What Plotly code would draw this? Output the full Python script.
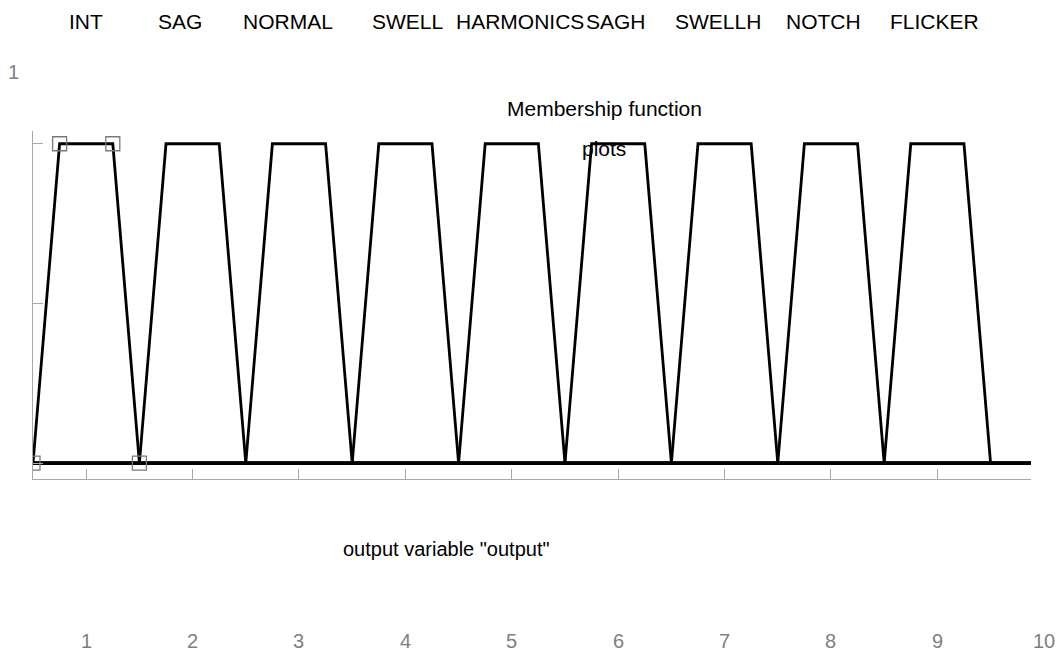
import plotly.graph_objects as go

# ---- data ----
mf_names = ["INT", "SAG", "NORMAL", "SWELL", "HARMONICS", "SAGH", "SWELLH", "NOTCH", "FLICKER"]
mf_params = [
    [0.5, 0.75, 1.25, 1.5],
    [1.5, 1.75, 2.25, 2.5],
    [2.5, 2.75, 3.25, 3.5],
    [3.5, 3.75, 4.25, 4.5],
    [4.5, 4.75, 5.25, 5.5],
    [5.5, 5.75, 6.25, 6.5],
    [6.5, 6.75, 7.25, 7.5],
    [7.5, 7.75, 8.25, 8.5],
    [8.5, 8.75, 9.25, 9.5],
]
mf_levels = [0, 1, 1, 0]
x_range = [0.5, 9.88]
y_range = [-0.05, 1.04]
x_tick_vals = [1, 2, 3, 4, 5, 6, 7, 8, 9, 10]
x_tick_labels = ["1", "2", "3", "4", "5", "6", "7", "8", "9", "10"]
y_tick_vals = [0, 0.5, 1]
y_label_shown = "1"
selected_mf = 0
title_lines = ["Membership function", "plots"]
x_title = 'output variable "output"'

# ---- layout geometry (page pixels; body margin removed by post_script) ----
W, H = 1059, 654
L, R, T, B = 33, 1031, 131, 479
# small horizontal nudges of the MF name labels (pixels), as in the reference
name_shift = [0, -13, -11, 2, 8, -2, -7, -7, -3]


def px(xp):
    return (xp - L) / (R - L)


def py(yp):
    return (B - yp) / (B - T)


def data_to_paper_x(v):
    return (v - x_range[0]) / (x_range[1] - x_range[0])


FONT = "Liberation Sans, Arial, sans-serif"
fig = go.Figure()

for name, p in zip(mf_names, mf_params):
    fig.add_trace(go.Scatter(
        x=[x_range[0]] + p + [x_range[1]],
        y=[0] + mf_levels + [0],
        mode="lines",
        line=dict(color="black", width=2.8),
        name=name,
        hoverinfo="name",
    ))

sel = mf_params[selected_mf]
fig.add_trace(go.Scatter(
    x=sel, y=mf_levels, mode="markers",
    marker=dict(symbol="square-open", size=14, color="#7a7a7a",
                line=dict(width=1.3, color="#7a7a7a")),
    cliponaxis=True, hoverinfo="skip", name="selected",
))

annotations = []
for name, p, dx in zip(mf_names, mf_params, name_shift):
    annotations.append(dict(
        x=(p[0] + p[3]) / 2, xref="x", y=py(22), yref="paper", xshift=dx,
        text=name, showarrow=False, xanchor="center", yanchor="middle",
        font=dict(family=FONT, size=21, color="black"),
    ))
for v, lab in zip(x_tick_vals, x_tick_labels):
    annotations.append(dict(
        x=data_to_paper_x(v), xref="paper", y=py(641), yref="paper",
        text=lab, showarrow=False, xanchor="center", yanchor="middle",
        font=dict(family=FONT, size=20, color="#808080"),
    ))
annotations.append(dict(
    x=px(13), xref="paper", y=py(72), yref="paper",
    text=y_label_shown, showarrow=False, xanchor="center", yanchor="middle",
    font=dict(family=FONT, size=20, color="#808080"),
))
annotations.append(dict(
    x=px(604), xref="paper", y=py(109), yref="paper",
    text=title_lines[0], showarrow=False, xanchor="center", yanchor="middle",
    font=dict(family=FONT, size=21, color="black"),
))
annotations.append(dict(
    x=px(604), xref="paper", y=py(148), yref="paper",
    text=title_lines[1], showarrow=False, xanchor="center", yanchor="middle",
    font=dict(family=FONT, size=21, color="black"),
))
annotations.append(dict(
    x=px(446), xref="paper", y=py(549), yref="paper",
    text=x_title, showarrow=False, xanchor="center", yanchor="middle",
    font=dict(family=FONT, size=20, color="black"),
))

fig.update_layout(
    width=W, height=H, autosize=False,
    margin=dict(l=L, r=W - R, t=T, b=H - B, pad=0),
    paper_bgcolor="white", plot_bgcolor="white",
    showlegend=False,
    annotations=annotations,
    xaxis=dict(range=x_range, showgrid=False, zeroline=False,
               showline=True, linecolor="#a8a8a8", linewidth=1,
               ticks="inside", ticklen=10, tickcolor="#a8a8a8", tickwidth=1,
               tickvals=x_tick_vals, showticklabels=False, fixedrange=True),
    yaxis=dict(range=y_range, showgrid=False, zeroline=False,
               showline=True, linecolor="#a8a8a8", linewidth=1,
               ticks="inside", ticklen=10, tickcolor="#a8a8a8", tickwidth=1,
               tickvals=y_tick_vals, showticklabels=False, fixedrange=True),
)

fig.write_html(
    "out.html",
    config={"displayModeBar": False},
    post_script="document.body.style.margin='0';document.body.style.overflow='hidden';",
)
